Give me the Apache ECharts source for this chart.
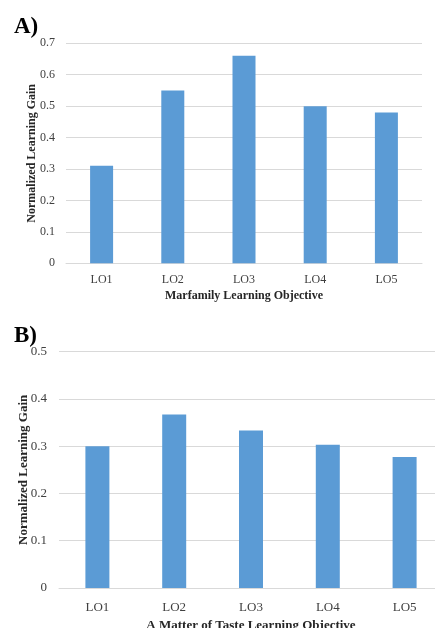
<!DOCTYPE html>
<html>
<head>
<meta charset="utf-8">
<script src="https://cdn.jsdelivr.net/npm/echarts@6/dist/echarts.min.js"></script>
<style>html,body{margin:0;padding:0;background:#fff}#c{width:435px;height:628px}</style>
</head>
<body>
<div id="c"></div>
<script>
var categories = ['LO1', 'LO2', 'LO3', 'LO4', 'LO5'];
var marfamilyGain = [0.31, 0.55, 0.66, 0.50, 0.48];
var tasteGain = [0.30, 0.367, 0.333, 0.303, 0.277];
var ticksA = [0, 0.1, 0.2, 0.3, 0.4, 0.5, 0.6, 0.7];
var ticksB = [0, 0.1, 0.2, 0.3, 0.4, 0.5];

var FONT = '"Liberation Serif", "DejaVu Serif", serif';
var BAR = '#5b9bd5';
var GRID = '#d9d9d9';

function xAxis(gridIndex, name, fs, margin, gap) {
  return {
    type: 'category', gridIndex: gridIndex, data: categories,
    name: name, nameLocation: 'middle', nameGap: gap, nameMoveOverlap: false,
    nameTextStyle: { fontFamily: FONT, fontWeight: 'bold', fontSize: fs, color: '#262626' },
    axisLine: { lineStyle: { color: GRID, width: 1 } },
    axisTick: { show: false },
    axisLabel: { fontFamily: FONT, fontSize: fs, color: '#404040', margin: margin }
  };
}
function yAxis(gridIndex, ticks, fs, margin, gap) {
  return {
    type: 'value', gridIndex: gridIndex,
    min: ticks[0], max: ticks[ticks.length - 1], interval: ticks[1] - ticks[0],
    name: 'Normalized Learning Gain', nameLocation: 'middle', nameGap: gap, nameMoveOverlap: false,
    nameTextStyle: { fontFamily: FONT, fontWeight: 'bold', fontSize: fs, color: '#262626' },
    axisLine: { show: false }, axisTick: { show: false },
    splitLine: { lineStyle: { color: GRID, width: 1 } },
    axisLabel: { fontFamily: FONT, fontSize: fs, color: '#404040', margin: margin,
      formatter: function (v) { return String(Math.round(v * 10) / 10); } }
  };
}

var chart = echarts.init(document.getElementById('c'), null, { renderer: 'canvas' });
chart.setOption({
  animation: false,
  backgroundColor: '#fff',
  title: [
    { text: 'A)', left: 9, top: 11, textStyle: { fontFamily: FONT, fontWeight: 'bold', fontSize: 23, color: '#000' } },
    { text: 'B)', left: 9, top: 320, textStyle: { fontFamily: FONT, fontWeight: 'bold', fontSize: 23, color: '#000' } }
  ],
  grid: [
    { left: 66, top: 43.3, width: 356, height: 220, outerBoundsMode: 'none' },
    { left: 59, top: 351.7, width: 384, height: 236.3, outerBoundsMode: 'none' }
  ],
  xAxis: [
    xAxis(0, 'Marfamily Learning Objective', 12, 11, 27),
    xAxis(1, 'A Matter of Taste Learning Objective', 13, 13.5, 31)
  ],
  yAxis: [
    yAxis(0, ticksA, 12, 11, 28),
    yAxis(1, ticksB, 13, 12, 28.5)
  ],
  series: [
    { type: 'bar', xAxisIndex: 0, yAxisIndex: 0, data: marfamilyGain, barWidth: 23,
      itemStyle: { color: BAR } },
    { type: 'bar', xAxisIndex: 1, yAxisIndex: 1, data: tasteGain, barWidth: 24,
      itemStyle: { color: BAR } }
  ]
});
</script>
</body>
</html>
